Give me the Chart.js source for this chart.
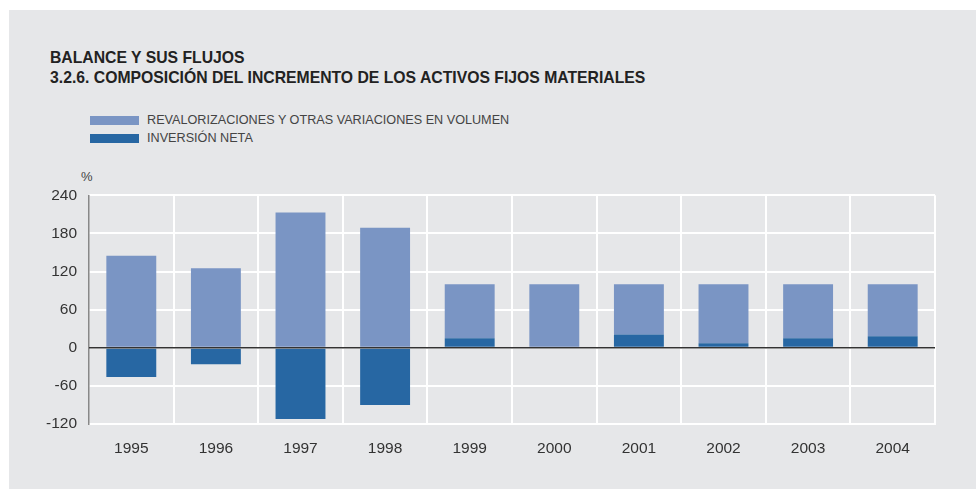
<!DOCTYPE html>
<html lang="es">
<head>
  <meta charset="UTF-8" />
  <title>Composición del incremento de los activos fijos materiales</title>
  <script src="https://cdn.jsdelivr.net/npm/chart.js"></script>
  <style>
    html, body {
      margin: 0;
      padding: 0;
      background: #ffffff;
      font-family: 'Liberation Sans', Arial, Helvetica, sans-serif;
    }
    #panel {
      position: absolute;
      left: 9px;
      top: 10px;
      width: 967px;
      height: 479px;
      background: #e6e7e9;
    }
    .title {
      position: absolute;
      left: 50px;
      font-size: 15.75px;
      line-height: 20px;
      font-weight: bold;
      color: #222;
      white-space: nowrap;
    }
    #legend {
      position: absolute;
      left: 90px;
      top: 111px;
    }
    .legend-row {
      display: flex;
      align-items: center;
      height: 18px;
      font-size: 12.65px;
      color: #444;
      white-space: nowrap;
    }
    .legend-box {
      width: 49px;
      height: 9px;
      margin-right: 8px;
    }
    #unit {
      position: absolute;
      left: 81px;
      top: 169px;
      font-size: 13px;
      line-height: 15px;
      color: #444;
    }
    #chart-wrap {
      position: absolute;
      left: 0;
      top: 174px;
      width: 978px;
      height: 306px;
    }
  </style>
</head>
<body>
  <div id="panel"></div>
  <div class="title" style="top:48px">BALANCE Y SUS FLUJOS</div>
  <div class="title" style="top:68px">3.2.6. COMPOSICIÓN DEL INCREMENTO DE LOS ACTIVOS FIJOS MATERIALES</div>
  <div id="legend"></div>
  <div id="unit">%</div>
  <div id="chart-wrap">
    <canvas id="chart"></canvas>
  </div>

  <script>
    const years = ['1995', '1996', '1997', '1998', '1999', '2000', '2001', '2002', '2003', '2004'];
    const inversionNeta = [-46, -26, -112, -90, 15, 0, 21, 7, 15, 18];
    const revalorizaciones = [145, 125, 213, 189, 85, 100, 79, 93, 85, 82];
    const yMin = -120;
    const yMax = 240;
    const yStep = 60;

    // zero line on top of the bars
    const zeroLine = {
      id: 'zeroLine',
      afterDatasetsDraw(chart) {
        const { ctx, chartArea, scales } = chart;
        const y = scales.y.getPixelForValue(0);
        ctx.save();
        ctx.strokeStyle = '#333333';
        ctx.lineWidth = 1.5;
        ctx.beginPath();
        ctx.moveTo(chartArea.left, y);
        ctx.lineTo(chartArea.right, y);
        ctx.stroke();
        ctx.restore();
      }
    };

    const tickFont = { family: "'Liberation Sans', Arial, sans-serif", size: 15.5 };

    const chart = new Chart(document.getElementById('chart'), {
      type: 'bar',
      data: {
        labels: years,
        datasets: [
          {
            label: 'INVERSIÓN NETA',
            data: inversionNeta,
            backgroundColor: '#2767a3'
          },
          {
            label: 'REVALORIZACIONES Y OTRAS VARIACIONES EN VOLUMEN',
            data: revalorizaciones,
            backgroundColor: '#7a95c4'
          }
        ]
      },
      options: {
        responsive: true,
        maintainAspectRatio: false,
        animation: false,
        layout: { padding: { left: 30, right: 43, top: 0, bottom: 16 } },
        datasets: {
          bar: { categoryPercentage: 1, barPercentage: 0.59 }
        },
        plugins: {
          legend: { display: false },
          tooltip: { enabled: false }
        },
        scales: {
          x: {
            stacked: true,
            grid: {
              color: (c) => (c.index === 0 ? 'rgba(0,0,0,0)' : '#ffffff'),
              lineWidth: 2,
              drawTicks: false
            },
            border: { color: '#ffffff', width: 2 },
            ticks: { color: '#333', font: tickFont, padding: 15 },
            afterFit: (s) => { s.height = 40; }
          },
          y: {
            stacked: true,
            min: yMin,
            max: yMax,
            grid: { color: '#ffffff', lineWidth: 2, drawTicks: false },
            border: { color: '#888888', width: 1.5 },
            ticks: { stepSize: yStep, color: '#333', font: tickFont, padding: 12 },
            afterFit: (s) => { s.width = 59; }
          }
        }
      },
      plugins: [zeroLine]
    });

    // legend built from the chart's own datasets, top row = last dataset
    const legend = document.getElementById('legend');
    chart.data.datasets.slice().reverse().forEach((ds) => {
      const row = document.createElement('div');
      row.className = 'legend-row';
      const box = document.createElement('span');
      box.className = 'legend-box';
      box.style.background = ds.backgroundColor;
      const txt = document.createElement('span');
      txt.textContent = ds.label;
      row.appendChild(box);
      row.appendChild(txt);
      legend.appendChild(row);
    });
  </script>
</body>
</html>
